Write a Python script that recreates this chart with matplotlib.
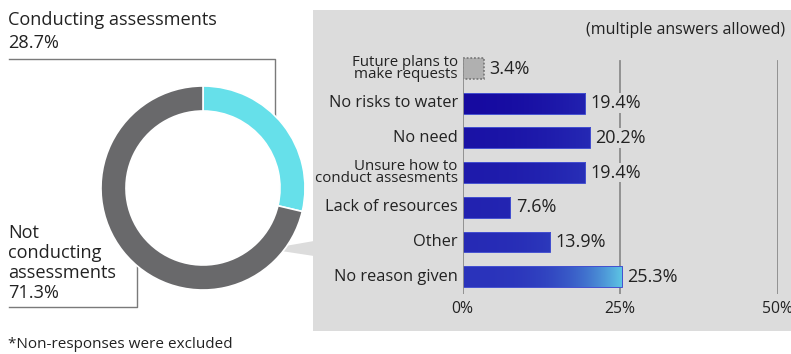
import matplotlib
matplotlib.use("Agg")
import matplotlib.pyplot as plt
import numpy as np
from matplotlib.patches import Rectangle, Polygon
from matplotlib.colors import to_rgb

plt.rcParams["font.family"] = ["Open Sans", "DejaVu Sans"]

# donut data
donut_labels = ["Conducting assessments", "Not conducting assessments"]
donut_values = [28.7, 71.3]
donut_colors = ["#66e0ea", "#69696b"]

# reasons for not conducting assessments
reasons = ["Future plans to\nmake requests", "No risks to water", "No need",
           "Unsure how to\nconduct assesments", "Lack of resources", "Other",
           "No reason given"]
shares = [3.4, 19.4, 20.2, 19.4, 7.6, 13.9, 25.3]
xticks = [0, 25, 50]

W, H = 791, 354
fig = plt.figure(figsize=(W / 100, H / 100), dpi=100)

def px_axes(x0, y0, x1, y1, **kw):
    # axes placed by pixel box (top-left origin)
    return fig.add_axes([x0 / W, 1 - y1 / H, (x1 - x0) / W, (y1 - y0) / H], **kw)

# background layer in pixel coordinates
bg = px_axes(0, 0, W, H)
bg.set_xlim(0, W)
bg.set_ylim(H, 0)
bg.axis("off")

panel_c = "#dcdcdc"
bg.add_patch(Rectangle((313, 10), W - 313 + 2, 321, color=panel_c, lw=0))
bg.add_patch(Polygon([(268, 249), (314, 241), (314, 256)], closed=True, color=panel_c, lw=0))

line_c = "#7a7a7a"
bg.plot([9, 275, 275], [59, 59, 123], color=line_c, lw=1)
bg.plot([9, 137, 137], [307, 307, 253], color=line_c, lw=1)

txt_c = "#222222"
big = 13.1
bg.text(8, 20, "Conducting assessments", fontsize=big, color=txt_c, va="center")
bg.text(8, 43, f"{donut_values[0]}%", fontsize=big, color=txt_c, va="center")
bg.text(8, 233, "Not", fontsize=big, color=txt_c, va="center")
bg.text(8, 253, "conducting", fontsize=big, color=txt_c, va="center")
bg.text(8, 273, "assessments", fontsize=big, color=txt_c, va="center")
bg.text(8, 293, f"{donut_values[1]}%", fontsize=big, color=txt_c, va="center")
bg.text(8, 345, "*Non-responses were excluded", fontsize=11, color=txt_c, va="center")
bg.text(785, 30, "(multiple answers allowed)", fontsize=11.5, color=txt_c,
        va="center", ha="right")

# donut
cx, cy, R = 203, 188, 102
dax = px_axes(cx - R, cy - R, cx + R, cy + R)
dax.pie(donut_values, colors=donut_colors, startangle=90, counterclock=False,
        radius=1, wedgeprops=dict(width=0.245, edgecolor="white", linewidth=1.2))
dax.set_xlim(-1, 1)
dax.set_ylim(-1, 1)
dax.set_aspect("equal")
dax.axis("off")

# bar chart
x0px, x50px = 462.5, 777.5
step = 34.7
top_c, bot_c = 68.5, 68.5 + 6 * step
ax = px_axes(x0px, top_c - step / 2, x50px, bot_c + step / 2)
ax.set_xlim(0, 50)
ax.set_ylim(len(reasons) - 0.5, -0.5)
ax.axis("off")

for xv in xticks[1:]:
    ax.plot([xv, xv], [-0.22, 6.55], color="#8c8c8c", lw=1.3, zorder=1)
ax.plot([0, 0], [-0.3, 6.55], color="#8c8c8c", lw=1.3, zorder=4)

ypos = np.arange(len(reasons))
bars = ax.barh(ypos, shares, height=0.6, color="none", zorder=2)

c_dark = np.array(to_rgb("#11009a"))
c_mid = np.array(to_rgb("#3344c6"))
c_cyan = np.array(to_rgb("#5ec8e4"))
xmax = max(shares)
for i, (bar, v) in enumerate(zip(bars, shares)):
    if i == 0:
        # planned answers shown as a dotted grey box
        bar.set_facecolor("#b0b0b0")
        bar.set_edgecolor("#707070")
        bar.set_linestyle((0, (1.2, 1.2)))
        bar.set_linewidth(1.1)
        continue
    xs = np.linspace(0, v, 200)
    fy = (i - 1) / (len(reasons) - 2)
    base = c_dark + (c_mid - c_dark) * (0.15 + 0.6 * fy)
    base = base + (c_mid - base) * (xs / xmax)[:, None] ** 2 * 0.7
    t = ((xs / xmax) ** 3.5 * fy ** 3)[:, None]
    rgb = base * (1 - t) + c_cyan * t
    img = ax.imshow(rgb[None, :, :], extent=[0, v, i + 0.3, i - 0.3],
                    aspect="auto", zorder=2, interpolation="bilinear")
    img.set_clip_path(bar)
    ax.add_patch(Rectangle((0, i - 0.3), v, 0.6, fill=False,
                           edgecolor="#4450d0", lw=0.7, zorder=3))

for i, (lab, v) in enumerate(zip(reasons, shares)):
    two = "\n" in lab
    ax.text(-0.75, i, lab, ha="right", va="center", fontsize=10.8 if two else 11.8,
            linespacing=0.78, color=txt_c, zorder=5)
    ax.text(v + 0.9, i, f"{v}%", ha="left", va="center", fontsize=13,
            color=txt_c, zorder=5,
            bbox=dict(facecolor=panel_c, edgecolor="none", pad=0.5))

for xv in xticks:
    ax.text(xv, 6.92, f"{xv}%", ha="center", va="center", fontsize=11.3, color=txt_c)

fig.savefig("out.png", dpi=100)
